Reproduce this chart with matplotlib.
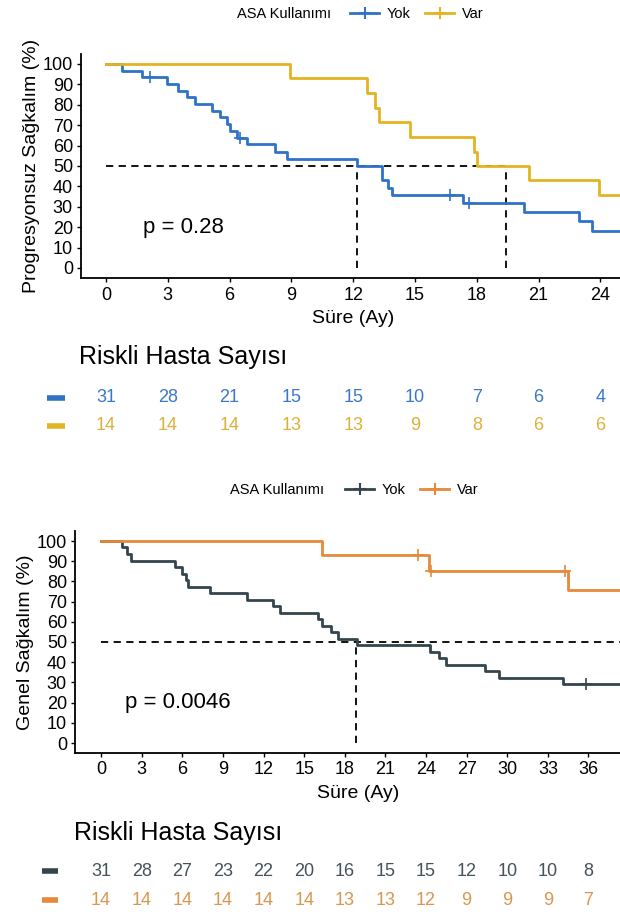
import matplotlib
matplotlib.use('Agg')
import matplotlib.pyplot as plt
from matplotlib.lines import Line2D

plt.rcParams['font.family'] = ['Liberation Sans', 'DejaVu Sans']

# --- Progresyonsuz sagkalim (top) ---
pfs_yok_t = [0, 0.76, 1.73, 2.95, 3.51, 3.92, 4.3, 5.13, 5.53, 5.86, 6.02, 6.34, 6.83,
             8.2, 8.77, 12.17, 13.38, 13.7, 13.9, 17.35, 20.3, 22.95, 23.6, 25.2]
pfs_yok_s = [100, 96.8, 93.5, 90.1, 86.8, 83.6, 80.3, 77.0, 73.8, 70.5, 67.2, 63.9, 60.6,
             57.0, 53.4, 50.0, 42.9, 39.3, 35.8, 32.0, 27.6, 23.2, 18.3, 18.3]
pfs_yok_cens_t = [2.14, 6.5, 16.7, 17.64]
pfs_yok_cens_s = [93.5, 63.9, 35.8, 32.0]

pfs_var_t = [0, 8.93, 12.65, 13.06, 13.27, 14.76, 17.86, 18.0, 20.55, 23.95, 25.2]
pfs_var_s = [100, 92.9, 85.7, 78.6, 71.4, 64.3, 57.1, 50.0, 42.9, 35.7, 35.7]

pfs_median_yok = 12.2
pfs_median_var = 19.4
pfs_p = 'p = 0.28'
pfs_ticks = [0, 3, 6, 9, 12, 15, 18, 21, 24]
pfs_risk_yok = [31, 28, 21, 15, 15, 10, 7, 6, 4]
pfs_risk_var = [14, 14, 14, 13, 13, 9, 8, 6, 6]

# --- Genel sagkalim (bottom) ---
os_yok_t = [0, 1.53, 1.9, 2.19, 5.47, 5.96, 6.3, 6.45, 8.05, 10.76, 12.73, 13.2, 16.05, 16.3,
            17.0, 17.5, 18.88, 24.3, 24.98, 25.5, 28.36, 29.4, 34.1, 39.9]
os_yok_s = [100, 96.8, 93.5, 90.3, 87.1, 83.9, 80.6, 77.4, 74.2, 71.0, 67.7, 64.5, 61.3, 58.1,
            54.8, 51.6, 48.4, 45.2, 41.9, 38.7, 35.5, 32.3, 29.0, 29.0]
os_yok_cens_t = [35.8]
os_yok_cens_s = [29.0]

os_var_t = [0, 16.3, 24.25, 34.5, 39.9]
os_var_s = [100, 92.9, 85.1, 75.7, 75.7]
os_var_cens_t = [23.4, 24.4, 34.3]
os_var_cens_s = [92.9, 85.1, 85.1]

os_median_yok = 18.8
os_p = 'p = 0.0046'
os_ticks = [0, 3, 6, 9, 12, 15, 18, 21, 24, 27, 30, 33, 36]
os_risk_yok = [31, 28, 27, 23, 22, 20, 16, 15, 15, 12, 10, 10, 8]
os_risk_var = [14, 14, 14, 14, 14, 14, 13, 13, 12, 9, 9, 9, 7]

W, H = 620, 916
fig = plt.figure(figsize=(W / 100, H / 100), dpi=100)


def px_box(left, top, right, bottom):
    return [left / W, 1 - bottom / H, (right - left) / W, (bottom - top) / H]


def km_panel(ax, curves, cens, median_lines, ptext, ticks, xlim, ylabel):
    for (t, s, c) in curves:
        ax.step(t, s, where='post', color=c, lw=2.0, zorder=3)
    for (t, s, c) in cens:
        ax.plot(t, s, ls='none', marker='+', color=c, ms=8, mew=1.2, zorder=4)
    for (x0, x1, y0, y1) in median_lines:
        ax.plot([x0, x1], [y0, y1], color='black', lw=1.3, ls=(0, (4, 3)), zorder=2)
    ax.text(1.8, 20, ptext, fontsize=16, va='center', ha='left')
    ax.set_xlim(*xlim)
    ax.set_ylim(-5, 105)
    ax.set_xticks(ticks)
    ax.set_yticks(range(0, 101, 10))
    ax.tick_params(labelsize=13, length=3, width=1, colors='black', pad=3)
    for side in ['top', 'right']:
        ax.spines[side].set_visible(False)
    for side in ['left', 'bottom']:
        ax.spines[side].set_linewidth(1.3)
    ax.set_xlabel('Süre (Ay)', fontsize=14, labelpad=5)
    ax.set_ylabel(ylabel, fontsize=14, labelpad=2)


def legend_row(y_px, x_title, x_leg, c1, c2):
    fig.text(x_title / W, 1 - y_px / H, 'ASA Kullanımı', fontsize=10.5, va='center', ha='left')
    handles = [Line2D([], [], color=c1, lw=2, marker='+', ms=8, mew=1.5),
               Line2D([], [], color=c2, lw=2, marker='+', ms=8, mew=1.5)]
    fig.legend(handles, ['Yok', 'Var'], loc='center left', ncol=2, frameon=False,
               bbox_to_anchor=(x_leg / W, 1 - y_px / H), fontsize=10.5,
               handlelength=2.0, handletextpad=0.5, columnspacing=1.0, borderpad=0)


def risk_table(top_px, bottom_px, left_px, right_px, xlim, ticks, r1, r2, c1, c2, tc1, tc2,
               title_xy, row_y, dash_x):
    ax = fig.add_axes(px_box(left_px, top_px, right_px, bottom_px))
    ax.set_xlim(*xlim)
    ax.set_ylim(bottom_px, top_px)
    ax.axis('off')
    fig.text(title_xy[0] / W, 1 - title_xy[1] / H, 'Riskli Hasta Sayısı', fontsize=18,
             va='center', ha='left')
    for t, n in zip(ticks, r1):
        ax.text(t, row_y[0], str(n), color=tc1, fontsize=13, ha='center', va='center')
    for t, n in zip(ticks, r2):
        ax.text(t, row_y[1], str(n), color=tc2, fontsize=13, ha='center', va='center')
    for y, c in zip(row_y, [c1, c2]):
        fig.add_artist(Line2D([dash_x[0] / W, dash_x[1] / W], [1 - y / H, 1 - y / H],
                              color=c, lw=4, solid_capstyle='butt'))


blue = '#2f72c6'
yellow = '#e3b422'
dark = '#34454d'
orange = '#e6893a'

# top panel
ax1 = fig.add_axes(px_box(81.3, 53.8, 81.3 + 26.4 * 20.6, 278.2))
km_panel(ax1,
         [(pfs_yok_t, pfs_yok_s, blue), (pfs_var_t, pfs_var_s, yellow)],
         [(pfs_yok_cens_t, pfs_yok_cens_s, blue)],
         [(0, pfs_median_var, 50, 50), (pfs_median_yok, pfs_median_yok, 0, 50),
          (pfs_median_var, pfs_median_var, 0, 50)],
         pfs_p, pfs_ticks, (-1.2, 25.2), 'Progresyonsuz Sağkalım (%)')
legend_row(14, 237, 343, blue, yellow)
risk_table(340, 440, 81.3, 81.3 + 26.4 * 20.6, (-1.2, 25.2), pfs_ticks,
           pfs_risk_yok, pfs_risk_var, blue, yellow, '#3a78c8', '#dcb23a',
           (79, 357), (398, 426), (47, 65))

# bottom panel
ax2 = fig.add_axes(px_box(75.3, 530.9, 75.3 + 41.8 * 13.54, 753.1))
km_panel(ax2,
         [(os_yok_t, os_yok_s, dark), (os_var_t, os_var_s, orange)],
         [(os_yok_cens_t, os_yok_cens_s, dark), (os_var_cens_t, os_var_cens_s, orange)],
         [(0, 39.9, 50, 50), (os_median_yok, os_median_yok, 0, 50)],
         os_p, os_ticks, (-1.9, 39.9), 'Genel Sağkalım (%)')
legend_row(490, 230, 338, dark, orange)
risk_table(815, 915, 75.3, 75.3 + 41.8 * 13.54, (-1.9, 39.9), os_ticks,
           os_risk_yok, os_risk_var, dark, orange, '#45525a', '#d8974f',
           (74, 833), (871, 900), (42, 58))

fig.savefig('out.png', dpi=100)
